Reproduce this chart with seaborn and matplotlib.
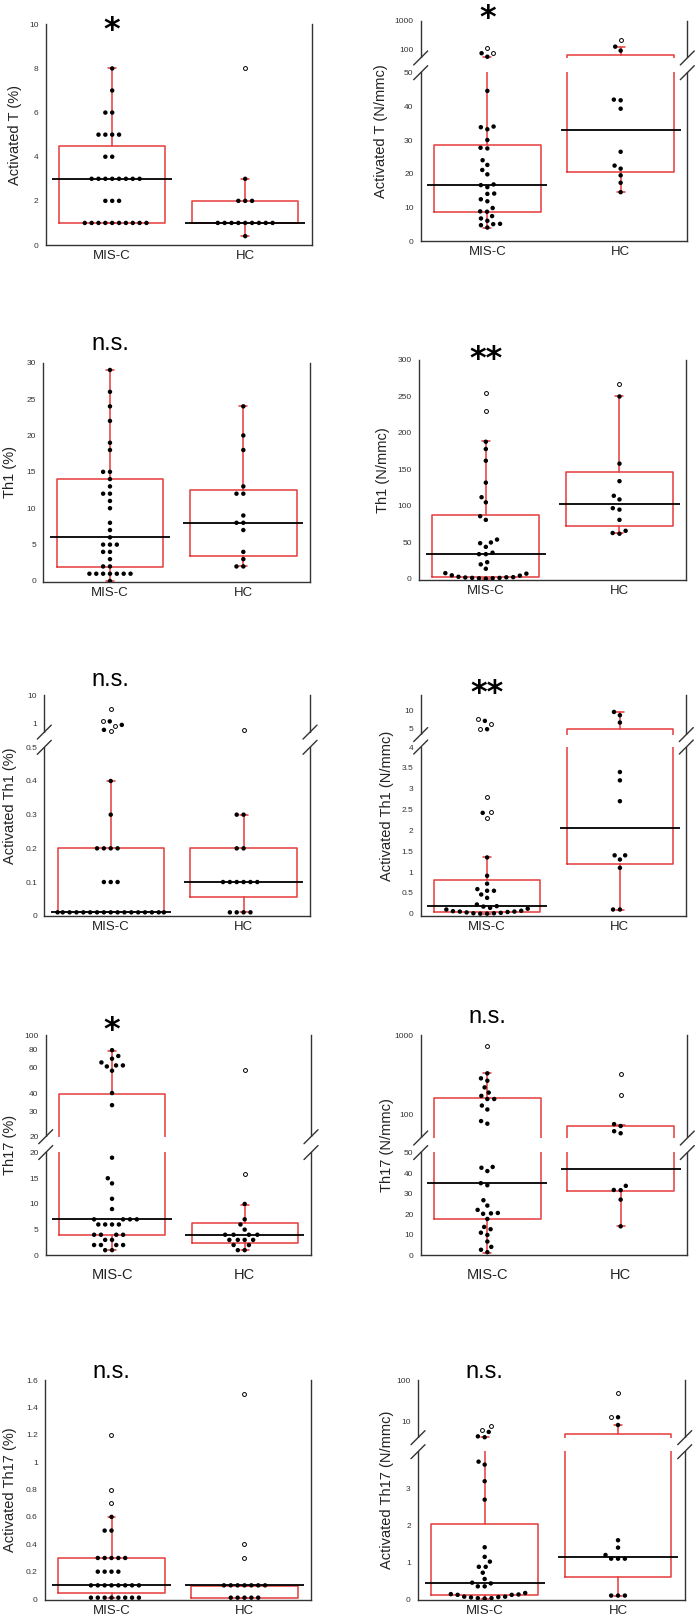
import numpy as np
import pandas as pd
import matplotlib
matplotlib.use('Agg')
import matplotlib.pyplot as plt
from matplotlib.patches import Rectangle
import seaborn as sns
import warnings
warnings.filterwarnings('ignore')

sns.set_style('white')
plt.rcParams['font.family'] = ['Liberation Sans', 'DejaVu Sans']

GROUPS = ['MIS-C', 'HC']
RED = '#e63a3c'
AXIS = '#333333'

# ── data (filled dots / open outliers / box stats lo,q1,med,q3,hi) ──
act_t_pct_misc = [1, 1, 1, 1, 1, 1, 1, 1, 1, 1, 2, 2, 2, 3, 3, 3, 3, 3, 3, 3, 3, 4, 4, 5, 5, 5, 5, 6, 6, 7, 8]
act_t_pct_misc_out = []
act_t_pct_hc = [0.4, 1, 1, 1, 1, 1, 1, 1, 1, 1, 2, 2, 2, 3]
act_t_pct_hc_out = [8]
act_t_pct_box = [(1, 1, 3, 4.5, 8), (0.4, 1, 1, 2, 3)]

act_t_abs_misc = [4.0, 4.7, 5.0, 5.1, 6.0, 6.7, 7.4, 8.7, 8.8, 9.8, 11.8, 12.4, 14.0, 14.1, 16.0, 16.6,
                  16.8, 19.8, 21.1, 22.6, 24.0, 27.5, 27.7, 30.0, 33.2, 33.8, 34.0, 44.6, 55, 73]
act_t_abs_misc_out = [76, 114]
act_t_abs_hc = [14.5, 17.3, 19.5, 21.5, 22.4, 26.5, 39.3, 41.8, 42.0, 90, 124]
act_t_abs_hc_out = [212]
act_t_abs_box = [(4.0, 8.7, 16.6, 28.6, 54), (14.5, 20.4, 33.0, 63.5, 117)]

th1_pct_misc = [0, 1, 1, 1, 1, 1, 1, 1, 2, 2, 3, 4, 4, 5, 5, 5, 6, 7, 8, 10, 11, 12, 12, 13, 14, 15, 15,
                18, 19, 22, 24, 26, 29]
th1_pct_misc_out = []
th1_pct_hc = [2, 2, 3, 4, 7, 8, 8, 9, 12, 12, 13, 18, 20, 24]
th1_pct_hc_out = []
th1_pct_box = [(0, 1.9, 6, 14, 29), (2, 3.4, 8, 12.5, 24)]

th1_abs_misc = [0.5, 1, 1, 1.5, 1.5, 2, 2.3, 2.5, 3, 4.6, 5, 7.3, 8, 14, 20, 23, 34, 34, 36, 44, 49, 50,
                54, 81, 86, 105, 112, 132, 162, 178, 188]
th1_abs_misc_out = [230, 255]
th1_abs_hc = [62, 63, 66, 81, 95, 97, 109, 114, 134, 158, 250]
th1_abs_hc_out = [267]
th1_abs_box = [(0.5, 3.2, 33.8, 87, 189), (62.5, 73, 103, 147, 251)]

act_th1_pct_misc = [0.01, 0.01, 0.01, 0.01, 0.01, 0.01, 0.01, 0.01, 0.01, 0.01, 0.01, 0.01, 0.01, 0.01,
                    0.01, 0.01, 0.01, 0.1, 0.1, 0.1, 0.2, 0.2, 0.2, 0.2, 0.3, 0.4, 0.6, 0.9, 1.2]
act_th1_pct_misc_out = [0.56, 0.85, 1.2, 3.2]
act_th1_pct_hc = [0.01, 0.01, 0.01, 0.01, 0.1, 0.1, 0.1, 0.1, 0.1, 0.1, 0.2, 0.2, 0.3, 0.3]
act_th1_pct_hc_out = [0.58]
act_th1_pct_box = [(0.01, 0.01, 0.01, 0.2, 0.4), (0.01, 0.055, 0.1, 0.2, 0.3)]

act_th1_abs_misc = [0.0, 0.0, 0.01, 0.01, 0.02, 0.03, 0.04, 0.05, 0.05, 0.06, 0.07, 0.1, 0.12, 0.14,
                    0.17, 0.18, 0.22, 0.38, 0.46, 0.55, 0.55, 0.59, 0.72, 0.91, 1.35, 2.42, 4.9, 6.7]
act_th1_abs_misc_out = [2.3, 2.43, 2.8, 5.0, 6.0, 7.1]
act_th1_abs_hc = [0.1, 0.1, 1.1, 1.3, 1.4, 1.4, 2.7, 3.2, 3.4, 6.3, 8.3, 9.4]
act_th1_abs_hc_out = []
act_th1_abs_box = [(0.0, 0.03, 0.18, 0.8, 1.35), (0.09, 1.19, 2.05, 5.0, 9.5)]

th17_pct_misc = [1, 1, 2, 2, 2, 2, 3, 3, 4, 4, 4, 4, 6, 6, 6, 6, 7, 7, 7, 7, 9, 11, 14, 15, 19, 33, 40,
                 57, 61, 62, 62, 65, 69, 72, 79]
th17_pct_misc_out = []
th17_pct_hc = [1, 1, 2, 2, 3, 3, 3, 3, 4, 4, 4, 4, 5, 6, 7, 10]
th17_pct_hc_out = [15.8, 58]
th17_pct_box = [(1, 4, 7, 39.5, 78), (1, 2.3, 4, 6.2, 9.8)]

th17_abs_misc = [1.5, 2.7, 4.1, 6.7, 9.9, 11.0, 12.7, 13.8, 17.7, 20.2, 20.4, 20.6, 22.1, 24.2, 26.8,
                 34.1, 35.1, 41.0, 42.6, 43.0, 76, 82, 115, 129, 156, 156, 171, 188, 219, 266, 285, 330]
th17_abs_misc_out = [740]
th17_abs_hc = [14.1, 27.1, 31.7, 31.8, 33.8, 57.5, 61, 71, 75]
th17_abs_hc_out = [177, 324]
th17_abs_box = [(1.3, 17.7, 35.1, 159, 337), (14.1, 31.3, 41.9, 71.2, 73)]

act_th17_pct_misc = [0.01, 0.01, 0.01, 0.01, 0.01, 0.01, 0.01, 0.01, 0.1, 0.1, 0.1, 0.1, 0.1, 0.1, 0.1,
                     0.1, 0.2, 0.2, 0.2, 0.2, 0.3, 0.3, 0.3, 0.3, 0.3, 0.5, 0.5, 0.6]
act_th17_pct_misc_out = [0.7, 0.8, 1.2]
act_th17_pct_hc = [0.01, 0.01, 0.01, 0.01, 0.01, 0.1, 0.1, 0.1, 0.1, 0.1, 0.1, 0.1]
act_th17_pct_hc_out = [0.3, 0.4, 1.5]
act_th17_pct_box = [(0.01, 0.046, 0.1, 0.297, 0.6), (0.005, 0.005, 0.1, 0.095, 0.095)]

act_th17_abs_misc = [0.02, 0.03, 0.03, 0.05, 0.06, 0.07, 0.07, 0.12, 0.12, 0.13, 0.14, 0.17, 0.35, 0.35,
                     0.43, 0.45, 0.55, 0.72, 0.88, 0.88, 1.02, 1.15, 1.41, 2.7, 3.2, 3.65, 3.73, 4.1,
                     4.3, 5.5]
act_th17_abs_misc_out = [6.2, 7.8]
act_th17_abs_hc = [0.1, 0.1, 0.1, 1.1, 1.1, 1.1, 1.2, 1.4, 1.6, 8.1, 12.5]
act_th17_abs_hc_out = [12.5, 49.4]
act_th17_abs_box = [(0.02, 0.12, 0.45, 2.05, 4.25), (0.1, 0.6, 1.15, 4.85, 8.2)]

# ── layout: axes rect in px (left, top, right, bottom), broken axis = (break, frac_lo, frac_up, top) ──
PANELS = [
    dict(rect=(45.7, 24.3, 311.7, 245.0), pts=(act_t_pct_misc, act_t_pct_misc_out, act_t_pct_hc, act_t_pct_hc_out),
         box=act_t_pct_box, ylim=(0, 10), ticks=[0, 2, 4, 6, 8, 10], brk=None,
         ylabel='Activated T (%)', sig='*', sig_dy=2.6, label_cx=14),
    dict(rect=(420.7, 20.7, 687.3, 241.0), pts=(act_t_abs_misc, act_t_abs_misc_out, act_t_abs_hc, act_t_abs_hc_out),
         box=act_t_abs_box, ylim=(0, 1000), ticks=[0, 10, 20, 30, 40, 50, 100, 1000], brk=(50, 0.764, 0.831, 1000),
         ylabel='Activated T (N/mmc)', sig='*', sig_dy=11, label_cx=380),
    dict(rect=(43.3, 362.7, 310.0, 582.3), pts=(th1_pct_misc, th1_pct_misc_out, th1_pct_hc, th1_pct_hc_out),
         box=th1_pct_box, ylim=(-0.18, 30), ticks=[0, 5, 10, 15, 20, 25, 30], brk=None,
         ylabel='Th1 (%)', sig='n.s.', sig_dy=19, label_cx=9),
    dict(rect=(419.0, 360.0, 686.3, 580.0), pts=(th1_abs_misc, th1_abs_misc_out, th1_abs_hc, th1_abs_hc_out),
         box=th1_abs_box, ylim=(-1.4, 300), ticks=[0, 50, 100, 150, 200, 250, 300], brk=None,
         ylabel='Th1 (N/mmc)', sig='**', sig_dy=10, label_cx=382),
    dict(rect=(44.3, 695.3, 310.0, 915.7), pts=(act_th1_pct_misc, act_th1_pct_misc_out, act_th1_pct_hc, act_th1_pct_hc_out),
         box=act_th1_pct_box, ylim=(0, 10), ticks=[0, 0.1, 0.2, 0.3, 0.4, 0.5, 1, 10], brk=(0.5, 0.764, 0.833, 10),
         ylabel='Activated Th1 (%)', sig='n.s.', sig_dy=15, label_cx=9),
    dict(rect=(420.7, 695.0, 686.3, 916.0), pts=(act_th1_abs_misc, act_th1_abs_misc_out, act_th1_abs_hc, act_th1_abs_hc_out),
         box=act_th1_abs_box, ylim=(-0.056, 17.8), ticks=[0, 0.5, 1, 1.5, 2, 2.5, 3, 3.5, 4, 5, 10],
         brk=(4, 0.762, 0.819, 17.8), ylabel='Activated Th1 (N/mmc)', sig='**', sig_dy=11, label_cx=385.5),
    dict(rect=(45.7, 1035.3, 311.0, 1255.3), pts=(th17_pct_misc, th17_pct_misc_out, th17_pct_hc, th17_pct_hc_out),
         box=th17_pct_box, ylim=(0, 100), ticks=[0, 5, 10, 15, 20, 20.0001, 30, 40, 60, 80, 100],
         brk=(20, 0.467, 0.539, 100), ylabel='Th17 (%)', sig='*', sig_dy=13.6, label_cx=9, xpad=9.5, xsize=10.5),
    dict(rect=(420.7, 1035.3, 687.3, 1255.3), pts=(th17_abs_misc, th17_abs_misc_out, th17_abs_hc, th17_abs_hc_out),
         box=th17_abs_box, ylim=(0, 1000), ticks=[0, 10, 20, 30, 40, 50, 100, 1000], brk=(50, 0.467, 0.533, 1000),
         ylabel='Th17 (N/mmc)', sig='n.s.', sig_dy=18.6, label_cx=385.5, xpad=9.5, xsize=10.5),
    dict(rect=(45.0, 1380.0, 311.0, 1600.0), pts=(act_th17_pct_misc, act_th17_pct_misc_out, act_th17_pct_hc, act_th17_pct_hc_out),
         box=act_th17_pct_box, ylim=(-0.007, 1.6), ticks=[0, 0.2, 0.4, 0.6, 0.8, 1, 1.2, 1.4, 1.6], brk=None,
         ylabel='Activated Th17 (%)', sig='n.s.', sig_dy=8.3, label_cx=9),
    dict(rect=(418.0, 1380.0, 684.7, 1600.0), pts=(act_th17_abs_misc, act_th17_abs_misc_out, act_th17_abs_hc, act_th17_abs_hc_out),
         box=act_th17_abs_box, ylim=(-0.02, 100), ticks=[0, 1, 2, 3, 10, 100], brk=(4, 0.673, 0.737, 100),
         ylabel='Activated Th17 (N/mmc)', sig='n.s.', sig_dy=8.3, label_cx=385.5),
]

W, H = 696, 1617
fig = plt.figure(figsize=(W / 100, H / 100), dpi=100)


def broken_scale(b, f_lo, f_up, top):
    # linear 0..b on the lower part, log b..top on the upper part, with a gap between
    la, lt = np.log10(b), np.log10(top)

    def fwd(y):
        y = np.asarray(y, dtype=float)
        up = f_up + (1 - f_up) * (np.log10(np.maximum(y, b)) - la) / (lt - la)
        return np.where(y <= b, y / b * f_lo, up)

    def inv(t):
        t = np.asarray(t, dtype=float)
        up = 10 ** (la + (t - f_up) / (1 - f_up) * (lt - la))
        return np.where(t <= f_lo, t / f_lo * b, np.where(t < f_up, b, up))
    return fwd, inv


swarms = []  # (ax, collection, outlier flags)


def draw_panel(p):
    l, t, r, b = p['rect']
    wpx, hpx = r - l, b - t
    ax = fig.add_axes([l / W, 1 - b / H, wpx / W, hpx / H])
    if p['brk']:
        fwd, inv = broken_scale(*p['brk'])
        ax.set_yscale('function', functions=(fwd, inv))
    ax.set_ylim(*p['ylim'])

    misc, misc_out, hc, hc_out = p['pts']
    df = pd.DataFrame({
        'group': ['MIS-C'] * (len(misc) + len(misc_out)) + ['HC'] * (len(hc) + len(hc_out)),
        'value': list(misc) + list(misc_out) + list(hc) + list(hc_out),
        'out': [False] * len(misc) + [True] * len(misc_out) + [False] * len(hc) + [True] * len(hc_out),
    })

    # transparent 1.5pt edge only widens the swarm spacing
    n0 = len(ax.collections)
    sns.swarmplot(data=df, x='group', y='value', order=GROUPS, ax=ax, color='black', size=3.2,
                  linewidth=1.5, edgecolor='none', zorder=4, warn_thresh=1)
    for coll, g in zip(ax.collections[n0:], GROUPS):
        flags = df.loc[df['group'] == g, 'out'].to_numpy()
        coll.set_facecolors([(1, 1, 1, 0) if f else (0, 0, 0, 1) for f in flags])
        coll.set_edgecolor((0, 0, 0, 0))
        swarms.append((ax, coll, flags))

    stats = [dict(label=g, whislo=s[0], q1=s[1], med=s[2], q3=s[3], whishi=s[4], fliers=[])
             for g, s in zip(GROUPS, p['box'])]
    ax.bxp(stats, positions=[0, 1], widths=0.8, capwidths=0.06, showfliers=False, manage_ticks=False,
           boxprops=dict(color=RED, lw=1.1), whiskerprops=dict(color=RED, lw=1.1),
           capprops=dict(color=RED, lw=1.1), medianprops=dict(linestyle='none'), zorder=2)
    meds = [s['med'] for s in stats]
    ax.hlines(meds, [-0.45, 0.55], [0.45, 1.45], color='black', lw=1.3, zorder=3)

    ax.set_xlim(-0.5, 1.5)
    ax.set_ylim(*p['ylim'])
    ax.set_xticks([0, 1])
    ax.set_xticklabels(GROUPS)
    ax.set_yticks(p['ticks'])
    ax.set_yticklabels([f'{round(v, 3):g}' for v in p['ticks']])
    ax.set_xlabel('')
    ax.set_ylabel(p['ylabel'], fontsize=10.5, color='#222222')
    ax.yaxis.set_label_coords((p['label_cx'] + 8 - l) / wpx, 0.5)

    ax.tick_params(axis='y', length=3, width=0.8, color=AXIS, labelsize=6, labelcolor='#333333', pad=2.2)
    ax.tick_params(axis='x', length=0, labelsize=p.get('xsize', 9.5), labelcolor='#222222', pad=p.get('xpad', 3.5))
    for side in ['left', 'bottom', 'right']:
        ax.spines[side].set_visible(True)
        ax.spines[side].set_color(AXIS)
        ax.spines[side].set_linewidth(1.0)
    ax.spines['top'].set_visible(False)

    if p['brk']:
        bval = p['brk'][0]
        to_axes = ax.transScale + ax.transLimits
        a_lo = to_axes.transform([(0, bval)])[0][1]
        a_up = to_axes.transform([(0, bval * (1 + 1e-9))])[0][1]
        ax.add_patch(Rectangle((-0.012, a_lo + 0.002), 1.024, a_up - a_lo - 0.004, transform=ax.transAxes,
                               facecolor='white', edgecolor='none', clip_on=False, zorder=3.5))
        dx, dy = 7 / wpx, 7 / hpx
        for x0 in (0, 1):
            for yf in (a_lo, a_up):
                ax.plot([x0 - dx, x0 + dx], [yf - dy, yf + dy], transform=ax.transAxes, color=AXIS,
                        lw=1.0, clip_on=False, zorder=5)

    if '*' in p['sig']:
        ax.annotate(p['sig'], xy=(0, 1), xycoords=('data', 'axes fraction'), xytext=(0, p['sig_dy'] - 17.5),
                    textcoords='offset pixels', ha='center', va='baseline', fontsize=23,
                    fontweight='bold', family='DejaVu Sans', color='black')
    else:
        ax.annotate(p['sig'], xy=(0, 1), xycoords=('data', 'axes fraction'), xytext=(0, p['sig_dy'] - 6.1),
                    textcoords='offset pixels', ha='center', va='baseline', fontsize=17, color='black')
    return ax


for p in PANELS:
    draw_panel(p)

# place the swarm, then ring the outliers at the positions seaborn computed
fig.canvas.draw()
for ax, coll, flags in swarms:
    if flags.any():
        xy = coll.get_offsets()[flags]
        ax.scatter(xy[:, 0], xy[:, 1], s=2.8 ** 2, facecolor='white', edgecolor='black',
                   linewidth=0.7, zorder=5)

fig.savefig('out.png', dpi=100)
